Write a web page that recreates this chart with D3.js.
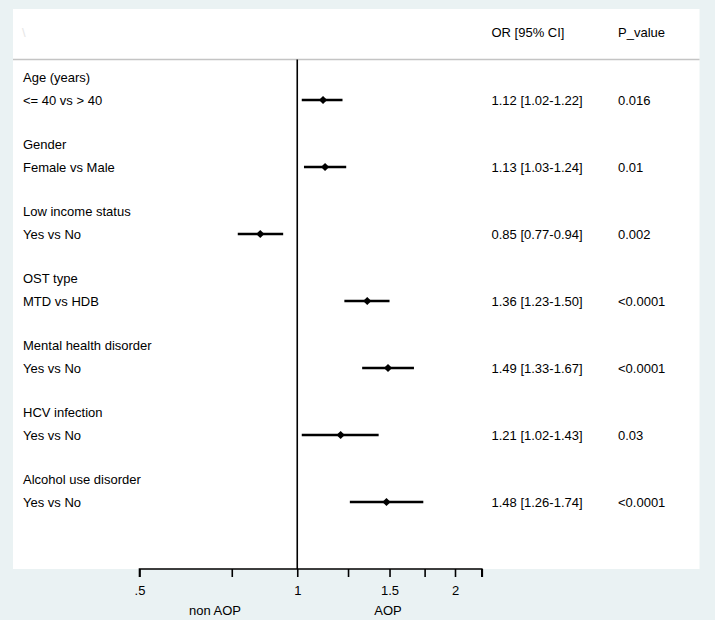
<!DOCTYPE html>
<html>
<head>
<meta charset="utf-8">
<script src="https://cdn.jsdelivr.net/npm/d3@7"></script>
<style>
  html, body { margin: 0; padding: 0; background: #eaf2f3; }
  svg { display: block; }
  text { font-family: "Liberation Sans", Arial, sans-serif; font-size: 13px; fill: #000; }
</style>
</head>
<body>
<svg id="chart" width="715" height="620"></svg>
<script>
const groups = ["Age (years)", "Gender", "Low income status", "OST type", "Mental health disorder", "HCV infection", "Alcohol use disorder"];
const comparisons = ["<= 40 vs > 40", "Female vs Male", "Yes vs No", "MTD vs HDB", "Yes vs No", "Yes vs No", "Yes vs No"];
const orValues = [1.12, 1.13, 0.85, 1.36, 1.49, 1.21, 1.48];
const ciLower = [1.02, 1.03, 0.77, 1.23, 1.33, 1.02, 1.26];
const ciUpper = [1.22, 1.24, 0.94, 1.50, 1.67, 1.43, 1.74];
const pValues = ["0.016", "0.01", "0.002", "<0.0001", "<0.0001", "0.03", "<0.0001"];
const tickValues = [0.5, 0.75, 1, 1.25, 1.5, 1.75, 2, 2.25];
const tickLabels = {0.5: ".5", 1: "1", 1.5: "1.5", 2: "2"};
const headers = ["OR [95% CI]", "P_value"];
const axisTitles = ["non AOP", "AOP"];

const svg = d3.select("#chart");
const W = 715, H = 620;

const panel = {x0: 13, x1: 699.5, y0: 9, y1: 569};

svg.append("rect").attr("x", 0).attr("y", 0).attr("width", W).attr("height", H).attr("fill", "#eaf2f3");
svg.append("rect").attr("x", panel.x0).attr("y", panel.y0)
  .attr("width", panel.x1 - panel.x0).attr("height", panel.y1 - panel.y0).attr("fill", "#ffffff");

const x = d3.scaleLog().domain([0.5, 2]).range([139.5, 455]);
const y = d3.scaleLinear().domain([0, groups.length - 1]).range([100, 502]);

// faint stray header mark
svg.append("text").attr("x", 22).attr("y", 37).style("fill", "#e6e6e6").text("\\");

// header
const headerX = [491.5, 618];
headers.forEach((h, i) => {
  svg.append("text").attr("x", headerX[i]).attr("y", 37).text(h);
});
svg.append("line").attr("x1", panel.x0).attr("x2", panel.x1).attr("y1", 59.5).attr("y2", 59.5)
  .attr("stroke", "#c4c4c4").attr("stroke-width", 1.5);

// null line
svg.append("line").attr("x1", x(1)).attr("x2", x(1)).attr("y1", 59.5).attr("y2", panel.y1)
  .attr("stroke", "#000").attr("stroke-width", 1.6);

const idx = d3.range(groups.length);
const rows = svg.append("g").selectAll("g").data(idx).join("g");

rows.append("text").attr("x", 23).attr("y", i => y(i) - 18.5).text(i => groups[i]);
rows.append("text").attr("x", 23).attr("y", i => y(i) + 4.5).text(i => comparisons[i]);

rows.append("line")
  .attr("x1", i => x(ciLower[i])).attr("x2", i => x(ciUpper[i]))
  .attr("y1", i => y(i)).attr("y2", i => y(i))
  .attr("stroke", "#000").attr("stroke-width", 2.4);

rows.append("path")
  .attr("d", d3.symbol(d3.symbolSquare, 34))
  .attr("transform", i => `translate(${x(orValues[i])},${y(i)}) rotate(45)`)
  .attr("fill", "#000");

rows.append("text").attr("x", headerX[0]).attr("y", i => y(i) + 4.5)
  .text(i => `${orValues[i].toFixed(2)} [${ciLower[i].toFixed(2)}-${ciUpper[i].toFixed(2)}]`);
rows.append("text").attr("x", headerX[1]).attr("y", i => y(i) + 4.5).text(i => pValues[i]);

// axis
const axis = d3.axisBottom(x)
  .tickValues(tickValues)
  .tickSize(8)
  .tickPadding(9)
  .tickFormat(d => tickLabels[d] || "");
const xScaleAxis = x.copy().domain([0.5, 2.25]).range([139.5, x(2.25)]);
const gAxis = svg.append("g").attr("transform", `translate(0,${panel.y1})`).call(axis.scale(xScaleAxis));
gAxis.select(".domain").attr("d", `M${xScaleAxis(0.5)},8V0H${xScaleAxis(2.25)}V8`)
  .attr("stroke", "#000").attr("stroke-width", 1.6).attr("fill", "none");
gAxis.selectAll(".tick line").attr("stroke", "#000").attr("stroke-width", 1.6);
gAxis.selectAll(".tick text").style("font-family", '"Liberation Sans", Arial, sans-serif')
  .style("font-size", "13px").attr("fill", "#000");

// axis titles
const titleX = [x(Math.sqrt(0.5 * 0.9)) , x(1.49)];
svg.append("text").attr("x", 215).attr("y", 615).attr("text-anchor", "middle").text(axisTitles[0]);
svg.append("text").attr("x", 388).attr("y", 615).attr("text-anchor", "middle").text(axisTitles[1]);
</script>
</body>
</html>
